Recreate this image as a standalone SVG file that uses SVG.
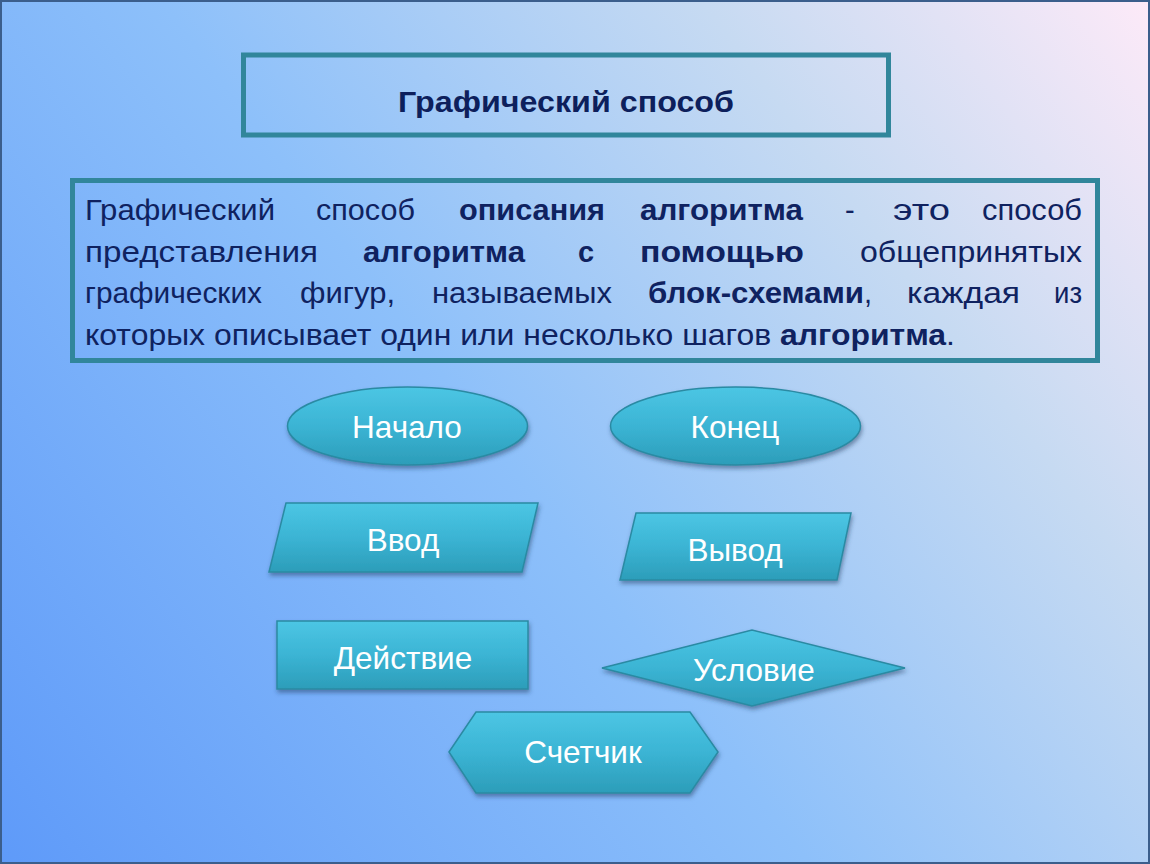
<svg xmlns="http://www.w3.org/2000/svg" width="1150" height="864" viewBox="0 0 1150 864">
<defs>
<linearGradient id="bg" gradientUnits="userSpaceOnUse" x1="0" y1="864" x2="1150" y2="0">
<stop offset="0" stop-color="#5e9af9"/>
<stop offset="0.45" stop-color="#8dc0fa"/>
<stop offset="0.75" stop-color="#c6daf2"/>
<stop offset="1" stop-color="#fdeaf8"/>
</linearGradient>
<linearGradient id="teal" x1="0" y1="0" x2="0" y2="1">
<stop offset="0" stop-color="#4cc6e4"/>
<stop offset="0.5" stop-color="#3bb4d4"/>
<stop offset="1" stop-color="#2c9db9"/>
</linearGradient>
<filter id="sh" x="-10%" y="-20%" width="120%" height="150%">
<feDropShadow dx="1" dy="3" stdDeviation="2" flood-color="#1a3a60" flood-opacity="0.5"/>
</filter>
</defs>
<style>
.frame{fill:none;stroke:#31869b;stroke-width:5}
.shape{fill:url(#teal);stroke:#2a8aa3;stroke-width:1.5;filter:url(#sh)}
.lbl{font-family:"Liberation Sans",Arial,sans-serif;font-size:31.5px;fill:#ffffff;text-anchor:middle}
.body{font-family:"Liberation Sans",Arial,sans-serif;font-size:29px;fill:#0f2260}
.b{font-weight:bold}
</style>
<rect x="0" y="0" width="1150" height="864" fill="url(#bg)"/>
<rect x="1" y="1" width="1148" height="862" fill="none" stroke="#3b5e8c" stroke-width="2"/>

<g id="title">
<rect class="frame" x="243.5" y="55" width="645" height="80"/>
<text x="566" y="112" font-family="'Liberation Sans',Arial,sans-serif" font-size="30" font-weight="bold" fill="#0d1f5c" text-anchor="middle" textLength="336" lengthAdjust="spacingAndGlyphs">Графический способ</text>
</g>

<g id="definition">
<rect class="frame" x="72.5" y="180.5" width="1025" height="180"/>
<text class="body" x="85" y="220" textLength="190" lengthAdjust="spacingAndGlyphs">Графический</text>
<text class="body" x="316" y="220" textLength="99" lengthAdjust="spacingAndGlyphs">способ</text>
<text class="body b" x="459" y="220" textLength="146" lengthAdjust="spacingAndGlyphs">описания</text>
<text class="body b" x="640" y="220" textLength="163" lengthAdjust="spacingAndGlyphs">алгоритма</text>
<text class="body" x="845" y="220">-</text>
<text class="body" x="893" y="220" textLength="57" lengthAdjust="spacingAndGlyphs">это</text>
<text class="body" x="982" y="220" textLength="100" lengthAdjust="spacingAndGlyphs">способ</text>

<text class="body" x="85" y="262" textLength="233" lengthAdjust="spacingAndGlyphs">представления</text>
<text class="body b" x="363" y="262" textLength="162" lengthAdjust="spacingAndGlyphs">алгоритма</text>
<text class="body b" x="578" y="262">с</text>
<text class="body b" x="640" y="262" textLength="164" lengthAdjust="spacingAndGlyphs">помощью</text>
<text class="body" x="860" y="262" textLength="222" lengthAdjust="spacingAndGlyphs">общепринятых</text>

<text class="body" x="85" y="303" textLength="177" lengthAdjust="spacingAndGlyphs">графических</text>
<text class="body" x="300" y="303" textLength="95" lengthAdjust="spacingAndGlyphs">фигур,</text>
<text class="body" x="432" y="303" textLength="180" lengthAdjust="spacingAndGlyphs">называемых</text>
<text class="body b" x="648" y="303" textLength="216" lengthAdjust="spacingAndGlyphs">блок-схемами</text>
<text class="body" x="864" y="303">,</text>
<text class="body" x="907" y="303" textLength="113" lengthAdjust="spacingAndGlyphs">каждая</text>
<text class="body" x="1054" y="303" textLength="28" lengthAdjust="spacingAndGlyphs">из</text>

<text class="body" x="85" y="345" textLength="870" lengthAdjust="spacingAndGlyphs">которых описывает один или несколько шагов <tspan class="b">алгоритма</tspan>.</text>
</g>

<g id="start">
<ellipse class="shape" cx="407.5" cy="426" rx="120" ry="39"/>
<text class="lbl" x="407" y="438">Начало</text>
</g>
<g id="end">
<ellipse class="shape" cx="735.5" cy="426" rx="125" ry="39"/>
<text class="lbl" x="735" y="438">Конец</text>
</g>
<g id="input">
<polygon class="shape" points="286,503 538,503 522,572 269,572"/>
<text class="lbl" x="403" y="551">Ввод</text>
</g>
<g id="output">
<polygon class="shape" points="636,513 851,513 837,580 620,580"/>
<text class="lbl" x="735" y="561">Вывод</text>
</g>
<g id="action">
<rect class="shape" x="277" y="621" width="251" height="68"/>
<text class="lbl" x="403" y="669">Действие</text>
</g>
<g id="condition">
<polygon class="shape" points="602,668 752,630 905,668 752,706"/>
<text class="lbl" x="754" y="681">Условие</text>
</g>
<g id="counter">
<polygon class="shape" points="449,752 476,712 690,712 718,752 690,793 476,793"/>
<text class="lbl" x="583" y="763">Счетчик</text>
</g>
<g id="connectors"/>
</svg>
